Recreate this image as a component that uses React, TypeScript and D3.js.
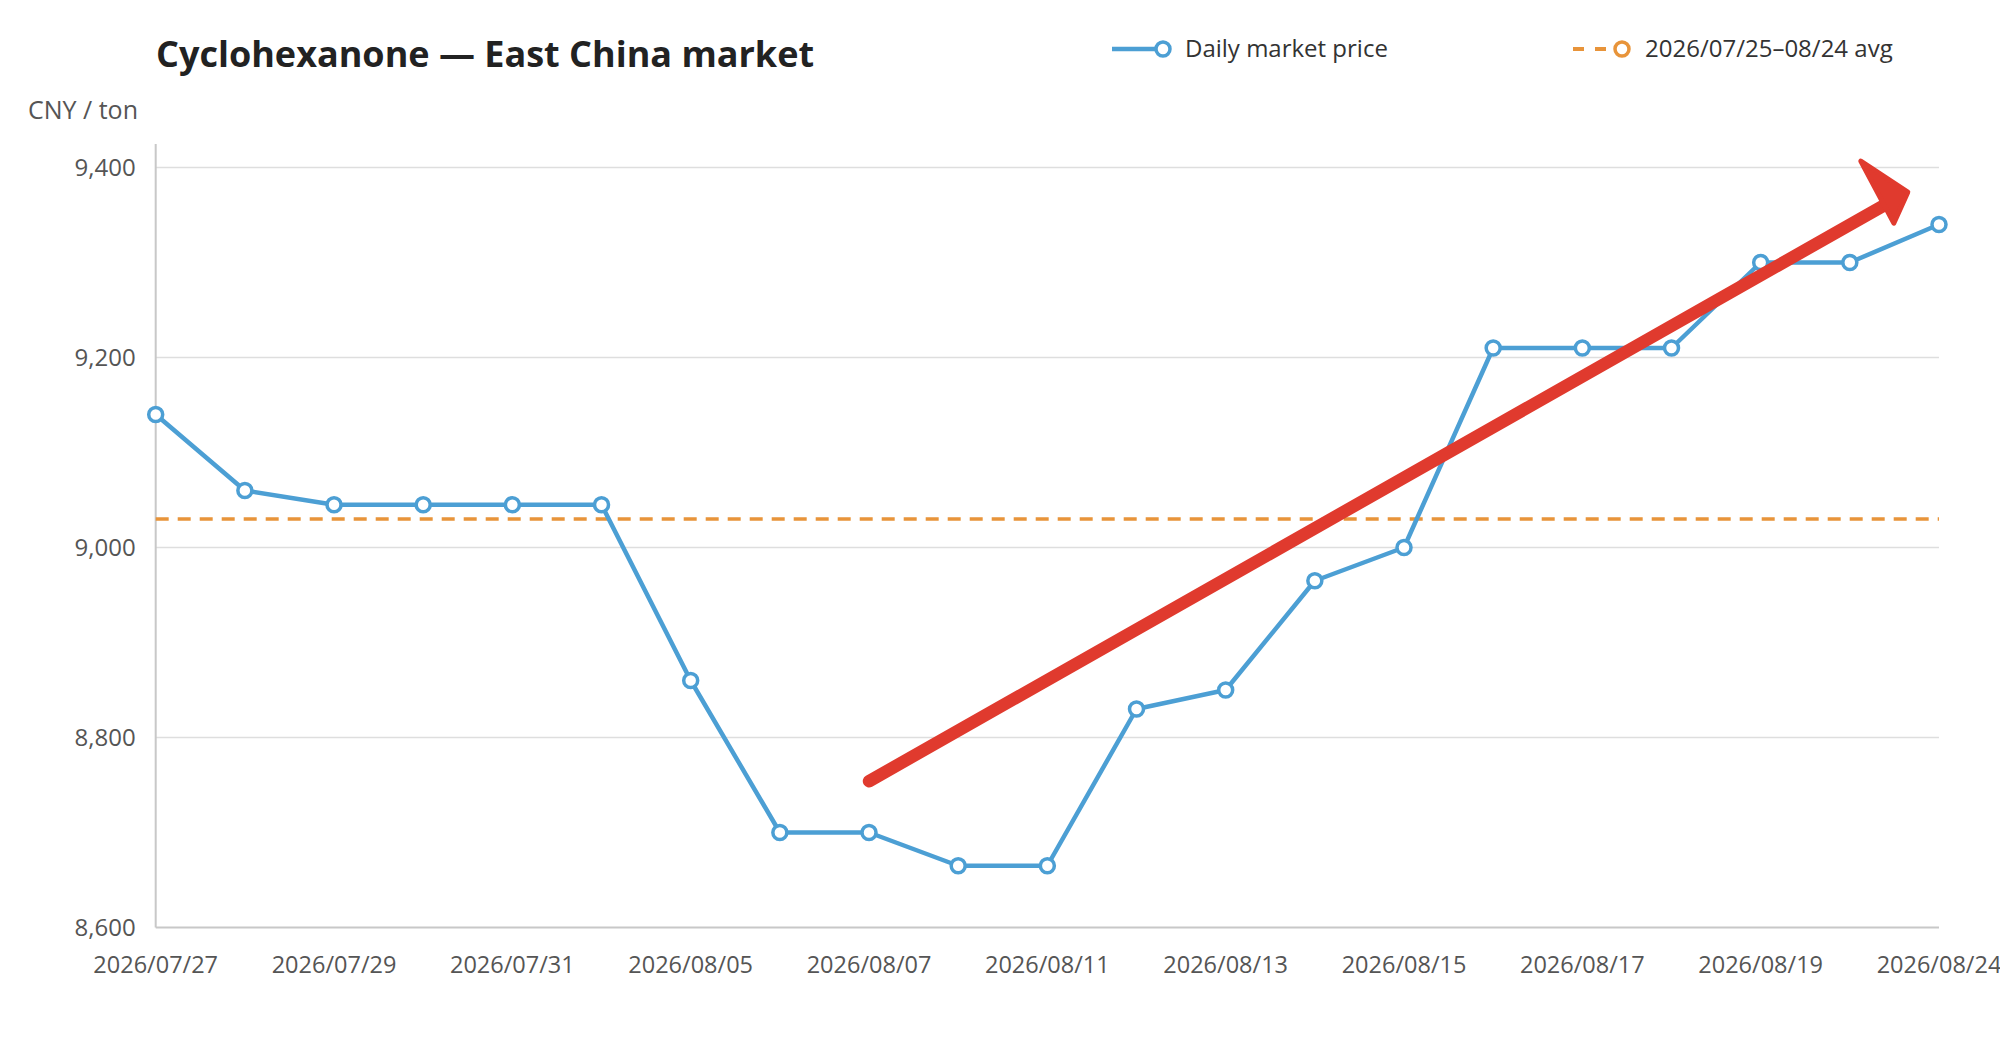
import * as d3 from "d3";
import React from "react";

// trading days shown on the x axis (every other one is labelled)
const dates = [
  "2026/07/27", "2026/07/28", "2026/07/29", "2026/07/30", "2026/07/31",
  "2026/08/04", "2026/08/05", "2026/08/06", "2026/08/07", "2026/08/10",
  "2026/08/11", "2026/08/12", "2026/08/13", "2026/08/14", "2026/08/15",
  "2026/08/16", "2026/08/17", "2026/08/18", "2026/08/19", "2026/08/21",
  "2026/08/24",
];
const prices = [
  9140, 9060, 9045, 9045, 9045, 9045, 8860, 8700, 8700, 8665,
  8665, 8830, 8850, 8965, 9000, 9210, 9210, 9210, 9300, 9300, 9340,
];
const avgPrice = 9030;
const yTicks = [8600, 8800, 9000, 9200, 9400];
// trend arrow annotation, in (index, price) units
const arrowFrom = { i: 8, v: 8754 };
const arrowTo = { i: 19.65, v: 9374 };

const W = 2000, H = 1040;
const m = { top: 167.5, right: 61, bottom: 112.5, left: 155.7 };
const font = "'Open Sans', 'Noto Sans', sans-serif";
const blue = "#4c9fd4";
const orange = "#e8943a";
const red = "#e03a2e";

export default function App() {
  const x = d3.scaleLinear().domain([0, dates.length - 1]).range([m.left, W - m.right]);
  const y = d3.scaleLinear().domain([8600, 9400]).range([H - m.bottom, m.top]);
  const line = d3.line<number>().x((_, i) => x(i)).y(d => y(d));
  const fmt = d3.format(",");

  const ax0 = x(arrowFrom.i), ay0 = y(arrowFrom.v);
  const ax1 = x(arrowTo.i), ay1 = y(arrowTo.v);

  return (
    <div style={{ position: "absolute", left: 0, top: 0 }}>
      <svg width={W} height={H} style={{ display: "block", fontFamily: font }}>
        <rect width={W} height={H} fill="#fff" />
        <text x={156} y={67} fontSize={36} fontWeight={700} fill="#222">Cyclohexanone — East China market</text>

        {/* legend */}
        <g transform="translate(1112,49)">
          <line x1={0} x2={46} y1={0} y2={0} stroke={blue} strokeWidth={4.5} />
          <circle cx={51} cy={0} r={7} fill="#fff" stroke={blue} strokeWidth={3.5} />
          <text x={73} y={0} dy="0.35em" fontSize={24} fill="#333">Daily market price</text>
        </g>
        <g transform="translate(1573,49)">
          <line x1={0} x2={36} y1={0} y2={0} stroke={orange} strokeWidth={4} strokeDasharray="11 11" />
          <circle cx={49} cy={0} r={7} fill="#fff" stroke={orange} strokeWidth={3.5} />
          <text x={72} y={0} dy="0.35em" fontSize={24} fill="#333">2026/07/25–08/24 avg</text>
        </g>

        <text x={28} y={119} fontSize={25} fill="#555">CNY / ton</text>

        {/* grid + y axis */}
        {yTicks.map(t => (
          <g key={t}>
            <line x1={m.left} x2={W - m.right} y1={y(t)} y2={y(t)}
              stroke={t === 8600 ? "#c8c8c8" : "#dedede"} strokeWidth={t === 8600 ? 2 : 1.5} />
            <text x={m.left - 20} y={y(t)} dy="0.35em" textAnchor="end" fontSize={24} fill="#555">{fmt(t)}</text>
          </g>
        ))}
        <line x1={m.left} x2={m.left} y1={144} y2={H - m.bottom} stroke="#c8c8c8" strokeWidth={2} />

        {/* x labels */}
        {dates.map((d, i) => i % 2 === 0 && (
          <text key={d} x={x(i)} y={H - m.bottom + 45} textAnchor="middle" fontSize={23.5} fill="#555">{d}</text>
        ))}

        {/* average line */}
        <line x1={m.left} x2={W - m.right} y1={y(avgPrice)} y2={y(avgPrice)}
          stroke={orange} strokeWidth={3.5} strokeDasharray="13 9" />

        {/* price line */}
        <path d={line(prices) ?? undefined} fill="none" stroke={blue} strokeWidth={4.5} strokeLinejoin="round" />
        {prices.map((p, i) => (
          <circle key={i} cx={x(i)} cy={y(p)} r={7} fill="#fff" stroke={blue} strokeWidth={3.5} />
        ))}

        {/* trend arrow */}
        <line x1={ax0} y1={ay0} x2={ax1 - 20} y2={ay1 + 11} stroke={red} strokeWidth={12.5} strokeLinecap="round" />
        <polygon
          points={`${ax1},${ay1} ${ax1 - 47},${ay1 - 31} ${ax1 - 14},${ay1 + 31}`}
          fill={red} stroke={red} strokeWidth={5} strokeLinejoin="round" />
      </svg>
    </div>
  );
}
